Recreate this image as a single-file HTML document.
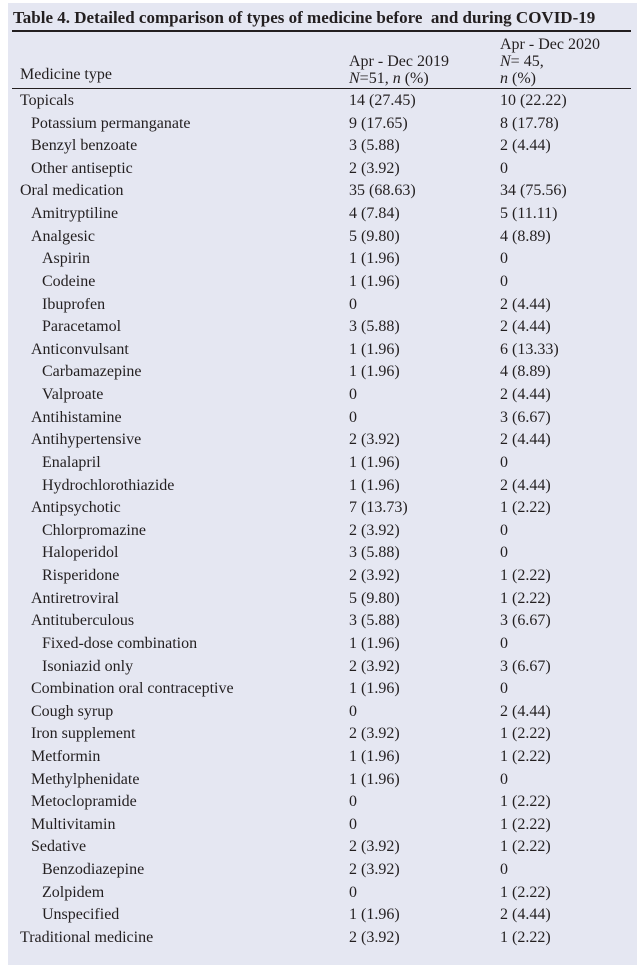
<!DOCTYPE html>
<html><head><meta charset="utf-8">
<style>
html,body{margin:0;padding:0;background:#fff;}
#wrap{position:relative;width:640px;height:973px;overflow:hidden;background:#fff;}
#panel{position:absolute;left:8px;top:3px;width:629px;height:962px;background:#e5e7f2;}
.t{position:absolute;font-family:"Liberation Serif",serif;font-size:16px;color:#231f20;white-space:nowrap;line-height:18px;letter-spacing:0;}
.title{font-weight:bold;font-size:17px;letter-spacing:0;}
.rule{position:absolute;background:#231f20;}
</style></head>
<body>
<div id="wrap">
<div id="panel"></div>
<div class="t title" style="left:13px;top:9px;">Table 4. Detailed comparison of types of medicine before&nbsp; and during COVID-19</div>
<div class="rule" style="left:12px;top:30px;width:619px;height:2px;"></div>
<div class="t" style="left:20px;top:66px;">Medicine type</div>
<div class="t" style="left:349px;top:53px;line-height:17px;">Apr - Dec 2019<br><i>N</i>=51, <i>n</i> (%)</div>
<div class="t" style="left:500px;top:36px;line-height:17px;">Apr - Dec 2020<br><i>N</i>= 45,<br><i>n</i> (%)</div>
<div class="rule" style="left:12px;top:88px;width:619px;height:1px;"></div>
<div id="rows"></div>
</div>
<script>
const names=["Topicals","Potassium permanganate","Benzyl benzoate","Other antiseptic","Oral medication","Amitryptiline","Analgesic","Aspirin","Codeine","Ibuprofen","Paracetamol","Anticonvulsant","Carbamazepine","Valproate","Antihistamine","Antihypertensive","Enalapril","Hydrochlorothiazide","Antipsychotic","Chlorpromazine","Haloperidol","Risperidone","Antiretroviral","Antituberculous","Fixed-dose combination","Isoniazid only","Combination oral contraceptive","Cough syrup","Iron supplement","Metformin","Methylphenidate","Metoclopramide","Multivitamin","Sedative","Benzodiazepine","Zolpidem","Unspecified","Traditional medicine"];
const levels=[0,1,1,1,0,1,1,2,2,2,2,1,2,2,1,1,2,2,1,2,2,2,1,1,2,2,1,1,1,1,1,1,1,1,2,2,2,0];
const v2019=["14 (27.45)","9 (17.65)","3 (5.88)","2 (3.92)","35 (68.63)","4 (7.84)","5 (9.80)","1 (1.96)","1 (1.96)","0","3 (5.88)","1 (1.96)","1 (1.96)","0","0","2 (3.92)","1 (1.96)","1 (1.96)","7 (13.73)","2 (3.92)","3 (5.88)","2 (3.92)","5 (9.80)","3 (5.88)","1 (1.96)","2 (3.92)","1 (1.96)","0","2 (3.92)","1 (1.96)","1 (1.96)","0","0","2 (3.92)","2 (3.92)","0","1 (1.96)","2 (3.92)"];
const v2020=["10 (22.22)","8 (17.78)","2 (4.44)","0","34 (75.56)","5 (11.11)","4 (8.89)","0","0","2 (4.44)","2 (4.44)","6 (13.33)","4 (8.89)","2 (4.44)","3 (6.67)","2 (4.44)","0","2 (4.44)","1 (2.22)","0","0","1 (2.22)","1 (2.22)","3 (6.67)","0","3 (6.67)","0","2 (4.44)","1 (2.22)","1 (2.22)","0","1 (2.22)","1 (2.22)","1 (2.22)","0","1 (2.22)","2 (4.44)","1 (2.22)"];
const wrap=document.getElementById('wrap');
names.forEach((n,i)=>{
  const y=92+i*22.62;
  const a=document.createElement('div');a.className='t';
  a.style.left=(20+levels[i]*11)+'px';a.style.top=y+'px';a.textContent=n;
  
  
  wrap.appendChild(a);
  const b=document.createElement('div');b.className='t';
  b.style.left='349px';b.style.top=y+'px';b.textContent=v2019[i];
  
  
  wrap.appendChild(b);
  const c=document.createElement('div');c.className='t';
  c.style.left='500px';c.style.top=y+'px';c.textContent=v2020[i];
  
  
  wrap.appendChild(c);
});
</script>
</body></html>
